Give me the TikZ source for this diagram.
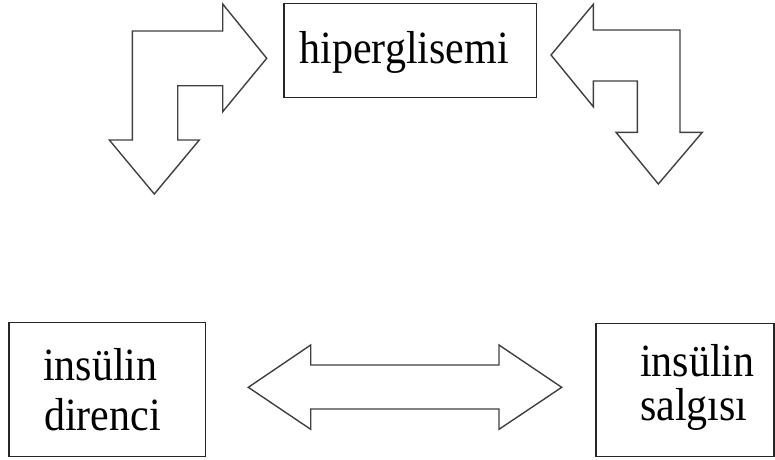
\documentclass[tikz,border=0pt]{standalone}
\usepackage{graphicx}
\usepackage{fontspec}
\setmainfont{Liberation Serif}
\newcommand{\tallword}[1]{\scalebox{1}[1.1]{#1}}
\begin{document}
\begin{tikzpicture}[x=1pt,y=-1pt,
  box/.style={draw=black!85,line width=1.4pt,rectangle,inner sep=0pt},
  label/.style={inner sep=0pt,font=\fontsize{42}{50}\selectfont},
  blockarrow/.style={draw=black!75,line width=1.4pt,line join=miter,fill=white}]
\useasboundingbox (0,0) rectangle (775,459);

% boxes
\node[box,minimum width=252.7pt,minimum height=94.4pt] (hyper) at (410.3,50.5) {};
\node[box,minimum width=196.7pt,minimum height=134pt] (resist) at (107.3,389.7) {};
\node[box,minimum width=178pt,minimum height=133.4pt] (secret) at (685,390) {};

% texts
\node[label,anchor=base west] (thyper) at (299.3,63.3) {\tallword{hiperglisemi}};
\node[label,anchor=base west] (tres1) at (43,380) {\tallword{insülin}};
\node[label,anchor=base west] (tres2) at (44,430) {\tallword{direnci}};
\node[label,anchor=base west] (tsec1) at (640,376.7) {\tallword{insülin}};
\node[label,anchor=base west] (tsec2) at (640,420) {\tallword{salgısı}};

% bent arrow, upper left
\draw[blockarrow] (132.3,31) -- (222.7,31) -- (222.7,4) -- (266.7,58.3)
  -- (222.7,111.7) -- (222.7,85.7) -- (177.7,85.7) -- (177.7,140)
  -- (199.3,140) -- (154.3,194) -- (109.3,140) -- (132.3,140) -- cycle;

% bent arrow, upper right
\draw[blockarrow] (551,55) -- (593.3,4.3) -- (593.3,30) -- (680,30)
  -- (680,132.3) -- (702.3,132.3) -- (658.3,184) -- (616,132.3)
  -- (637.3,132.3) -- (637.3,81) -- (593.3,81) -- (593.3,106.7) -- cycle;

% double arrow between the lower boxes
\draw[blockarrow] (248.3,387.3) -- (310.7,345) -- (310.7,365) -- (499,365)
  -- (499,345) -- (561.7,387.3) -- (499,429.3) -- (499,409)
  -- (310.7,409) -- (310.7,429.3) -- cycle;
\end{tikzpicture}
\end{document}
